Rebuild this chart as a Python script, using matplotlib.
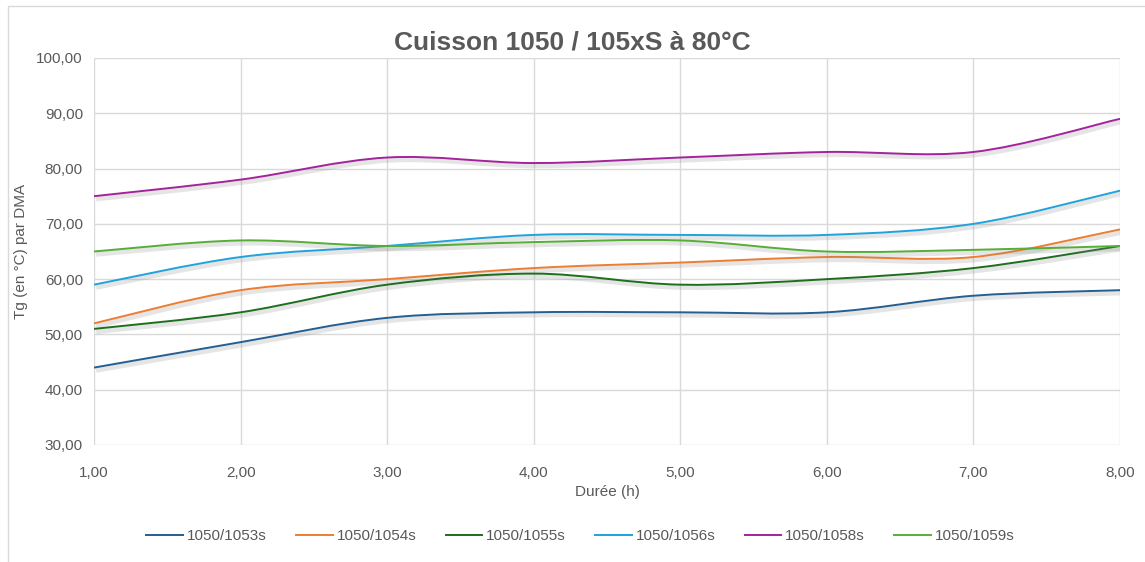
import matplotlib.pyplot as plt
import matplotlib.patheffects as pe
from matplotlib.path import Path
from matplotlib.patches import PathPatch, Rectangle
from matplotlib.lines import Line2D
import numpy as np

plt.rcParams['font.family'] = ['Liberation Sans', 'DejaVu Sans']

# Durée (h)
duree = [1, 2, 3, 4, 5, 6, 7, 8]

# Tg (°C) par DMA
s1053 = [44, 48.6, 53, 54, 54, 54, 57, 58]
s1054 = [52, 58, 60, 62, 63, 64, 64, 69]
s1055 = [51, 54, 59, 61, 59, 60, 62, 66]
s1056 = [59, 64, 66, 68, 68, 68, 70, 76]
s1058 = [75, 78, 82, 81, 82, 83, 83, 89]
s1059 = [65, 67, 66, 66.7, 67, 65, 65.3, 66]

noms = ['1050/1053s', '1050/1054s', '1050/1055s', '1050/1056s', '1050/1058s', '1050/1059s']
series = [s1053, s1054, s1055, s1056, s1058, s1059]
couleurs = ['#255E91', '#ED7D31', '#1E6E1E', '#1FA2DE', '#A3239C', '#55AE35']


def courbe_lissee(x, y):
    # courbe de Bézier façon "lissage" Excel
    p = np.column_stack([x, y]).astype(float)
    verts = [p[0]]
    codes = [Path.MOVETO]
    n = len(p)
    for i in range(n - 1):
        p0 = p[i - 1] if i > 0 else p[i]
        p3 = p[i + 2] if i + 2 < n else p[i + 1]
        c1 = p[i] + (p[i + 1] - p0) / 6
        c2 = p[i + 1] - (p3 - p[i]) / 6
        verts += [c1, c2, p[i + 1]]
        codes += [Path.CURVE4] * 3
    return Path(verts, codes)


fig = plt.figure(figsize=(11.45, 5.62), dpi=100)
ax = fig.add_axes([0.0821, 0.2082, 0.8961, 0.6886])

ombre = [pe.SimpleLineShadow(offset=(1.5, -2), shadow_color='#808080', alpha=0.2, linewidth=3.5),
         pe.Normal()]

handles = []
for nom, y, c in zip(noms, series, couleurs):
    patch = PathPatch(courbe_lissee(duree, y), fill=False, edgecolor=c, lw=1.4,
                      transform=ax.transData, zorder=3)
    patch.set_path_effects(ombre)
    ax.add_patch(patch)
    handles.append(Line2D([], [], color=c, lw=1.4, label=nom))

ax.set_xlim(1, 8)
ax.set_ylim(30, 100)
ax.set_xticks(duree)
ax.set_yticks(np.arange(30, 101, 10))
ax.set_xticklabels([f'{v:.2f}'.replace('.', ',') for v in duree])
ax.set_yticklabels([f'{v:.2f}'.replace('.', ',') for v in np.arange(30, 101, 10)])
ax.tick_params(length=0, labelsize=11, colors='#595959', pad=8)
ax.tick_params(axis='x', pad=15)
ax.grid(True, color='#D9D9D9', lw=1)
ax.set_axisbelow(True)
for s in ax.spines.values():
    s.set_visible(False)

ax.set_xlabel('Durée (h)', fontsize=11, color='#595959', labelpad=4)
ax.set_ylabel('Tg (en °C) par DMA', fontsize=11, color='#595959', labelpad=6)
fig.text(0.5, 0.925, 'Cuisson 1050 / 105xS à 80°C', ha='center', va='center',
         fontsize=19, fontweight='bold', color='#595959')

fig.legend(handles=handles, loc='center', bbox_to_anchor=(0.507, 0.046), ncol=6,
           frameon=False, fontsize=11, handlelength=2.4, handletextpad=0.25,
           columnspacing=1.92, labelcolor='#595959')

fig.patches.append(Rectangle((0.007, -0.02), 1.0, 1.009, transform=fig.transFigure,
                             fill=False, edgecolor='#D9D9D9', lw=1))

fig.savefig('out.png', dpi=100)
